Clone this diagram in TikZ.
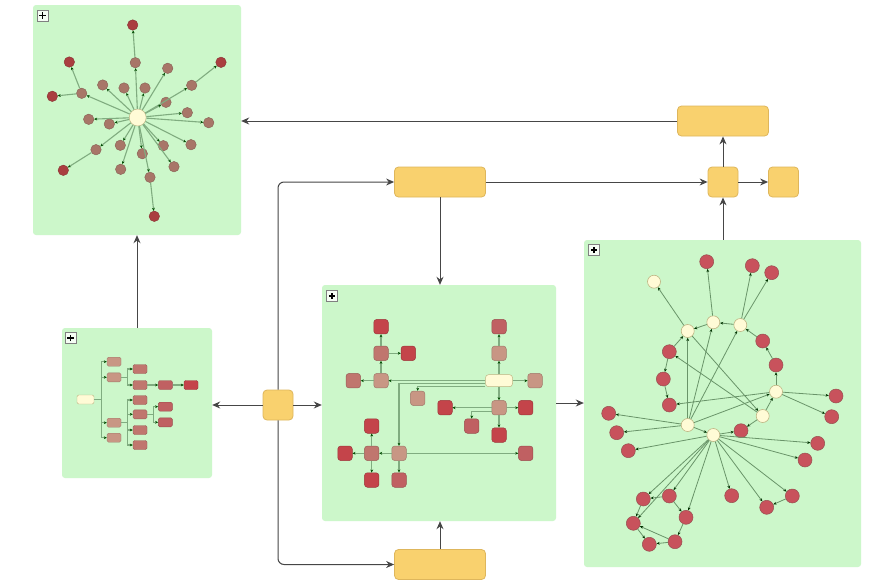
\documentclass[tikz,border=0pt]{standalone}
\usetikzlibrary{arrows.meta,calc}
\definecolor{panelgreen}{RGB}{204,247,202}
\definecolor{boxfill}{RGB}{249,209,110}
\definecolor{boxline}{RGB}{222,182,92}
\definecolor{connline}{RGB}{70,70,70}
\definecolor{edgegreen}{RGB}{128,172,128}
\definecolor{netgreen}{RGB}{105,148,105}
\definecolor{cream}{RGB}{255,251,214}
\definecolor{creamline}{RGB}{190,180,130}
\definecolor{starmid}{RGB}{168,118,104}
\definecolor{stardark}{RGB}{170,62,64}
\definecolor{netred}{RGB}{200,82,92}
\definecolor{netline}{RGB}{150,80,80}
\definecolor{ttan}{RGB}{200,150,132}
\definecolor{tmid}{RGB}{192,118,110}
\definecolor{tmdark}{RGB}{192,96,98}
\definecolor{tdark}{RGB}{196,68,74}
\begin{document}
\begin{tikzpicture}[x=1pt,y=-1pt,
  panel/.style={fill=panelgreen,draw=none,rounded corners=3pt,inner sep=0},
  obox/.style={fill=boxfill,draw=boxline,line width=0.8pt,rounded corners=4pt,inner sep=0},
  conn/.style={draw=connline,line width=1pt,-{Stealth[length=8pt,width=7pt]}},
  plusbox/.style={fill=white!80!panelgreen,draw=gray,line width=0.6pt,minimum size=11pt,inner sep=0,
    path picture={\draw[line width=1.4pt,black]
      ([xshift=-3.2pt]path picture bounding box.center) -- ([xshift=3.2pt]path picture bounding box.center)
      ([yshift=-3.2pt]path picture bounding box.center) -- ([yshift=3.2pt]path picture bounding box.center);}},
  sedge/.style={draw=edgegreen,line width=1.1pt,-{Stealth[length=3pt,width=2.8pt,black!70!green]}},
  nedge/.style={draw=netgreen,line width=0.8pt,-{Stealth[length=3.2pt,width=2.8pt,black!80!green]}},
  scream/.style={circle,fill=cream,draw=creamline,line width=0.5pt,inner sep=0,minimum size=17pt},
  smid/.style={circle,fill=starmid,draw=starmid!80!black,line width=0.4pt,inner sep=0,minimum size=10.5pt},
  sdark/.style={circle,fill=stardark,draw=stardark!80!black,line width=0.4pt,inner sep=0,minimum size=10.5pt},
  tnode/.style={rounded corners=1.5pt,line width=0.4pt,inner sep=0,minimum width=14pt,minimum height=9pt},
  cnode/.style={rounded corners=3pt,line width=0.5pt,inner sep=0,minimum size=14.5pt},
  ncirc/.style={circle,fill=netred,draw=netline,line width=0.5pt,inner sep=0,minimum size=14pt},
  wcirc/.style={circle,fill=cream,draw=creamline,line width=0.6pt,inner sep=0,minimum size=13pt}
]
\useasboundingbox (0,0) rectangle (869,581);
\fill[white] (0,0) rectangle (869,581);

% ---------- panels ----------
\node[panel,minimum width=208pt,minimum height=230pt] (P1) at (137,120) {};
\node[panel,minimum width=150pt,minimum height=150pt] (P2) at (137,403) {};
\node[panel,minimum width=234pt,minimum height=236pt] (P3) at (439,403) {};
\node[panel,minimum width=277pt,minimum height=327pt] (P4) at (722.5,403.5) {};

\node[plusbox] (K1) at (42.5,15.5) {};
\node[plusbox] (K2) at (70.5,338) {};
\node[plusbox] (K3) at (332,296) {};
\node[plusbox] (K4) at (594,250) {};

% ---------- process boxes ----------
\node[obox,minimum width=91pt,minimum height=30pt] (A) at (440,182) {};
\node[obox,minimum width=91pt,minimum height=30pt] (B) at (723,121) {};
\node[obox,minimum width=30pt,minimum height=30pt] (C) at (723,182) {};
\node[obox,minimum width=30pt,minimum height=30pt] (D) at (783.5,182) {};
\node[obox,minimum width=30pt,minimum height=30pt] (E) at (278,405) {};
\node[obox,minimum width=91pt,minimum height=30pt] (F) at (440,564.5) {};

% ---------- connectors ----------
\draw[conn] (B.west) -- (B.west -| P1.east);
\draw[conn] (C.north) -- (B.south);
\draw[conn] (A.east) -- (C.west);
\draw[conn] (C.east) -- (D.west);
\draw[conn] (C.south |- P4.north) -- (C.south);
\draw[conn] (A.south) -- (A.south |- P3.north);
\draw[conn,rounded corners=6pt] (E.north) |- (A.west);
\draw[conn] (E.west) -- (E.west -| P2.east);
\draw[conn] (E.east) -- (E.east -| P3.west);
\draw[conn,rounded corners=6pt] (E.south) |- (F.west);
\draw[conn] (F.north) -- (F.north |- P3.south);
\draw[conn] (P3.east) -- (P3.east -| P4.west);
\draw[conn] (P2.north) -- (P1.south);

% ---------- radial graph ----------
\foreach \n/\x/\y in {m1/135.3/62.7, m2/81.7/93.3, m3/102.7/85, m4/124/88, m5/145/88,
  m6/167.7/68.3, m7/191.7/85.3, m8/166/102.3, m9/187.3/112.7, m10/208.7/122.7,
  m11/88.7/119.3, m12/109.3/124, m13/96/149.7, m14/120.3/145.3, m15/142.3/153.7,
  m16/163.3/145.7, m17/191/144.7, m18/174/166.7, m19/120.7/169.3, m20/150/177.3}
  \node[smid] (\n) at (\x,\y) {};
\foreach \n/\x/\y in {k1/132.7/25, k2/69.3/62, k3/52.3/96.3, k4/221/62.3, k5/63.3/170.3, k6/154.3/216.3}
  \node[sdark] (\n) at (\x,\y) {};
\node[scream] (S0) at (137.7,117.5) {};
\foreach \n in {m1,m2,m3,m4,m5,m6,m7,m8,m9,m10,m11,m12,m13,m14,m15,m16,m17,m18,m19,m20}
  \draw[sedge] (S0) -- (\n);
\foreach \a/\b in {m1/k1, m2/k2, m2/k3, m7/k4, m13/k5, m20/k6}
  \draw[sedge] (\a) -- (\b);

% ---------- tree ----------
\node[tnode,fill=cream,draw=creamline,minimum width=17pt] (R) at (85.5,399.5) {};
\foreach \n/\y in {t1/361.7, t2/377.3, t3/422.7, t4/437.7}
  \node[tnode,fill=ttan,draw=ttan!80!black] (\n) at (114,\y) {};
\foreach \n/\y in {t5/369, t6/385, t7/400, t8/414.3, t9/430, t10/445}
  \node[tnode,fill=tmid,draw=tmid!80!black] (\n) at (140,\y) {};
\foreach \n/\y in {t11/385, t13/406.7, t14/422.3}
  \node[tnode,fill=tmdark,draw=tmdark!80!black] (\n) at (165.3,\y) {};
\node[tnode,fill=tdark,draw=tdark!80!black] (t12) at (191,385) {};
\foreach \n in {t1,t2,t3,t4}
  \draw[sedge] (R.east) -- ++(7,0) |- (\n.west);
\foreach \n in {t5,t6}
  \draw[sedge] (t2.east) -- ++(6,0) |- (\n.west);
\foreach \n in {t7,t8,t9,t10}
  \draw[sedge] (t3.east) -- ++(6,0) |- (\n.west);
\draw[sedge] (t6) -- (t11);
\draw[sedge] (t11) -- (t12);
\foreach \n in {t13,t14}
  \draw[sedge] (t8.east) -- ++(6,0) |- (\n.west);

% ---------- orthogonal graph ----------
\node[cnode,fill=cream,draw=creamline,minimum width=27pt,minimum height=12pt] (CR) at (499,380.7) {};
\foreach \n/\x/\y in {a4/381/380.7, b2/499/353.3, b3/535/380.7, c1/417.7/398.3, d0/499/407.7, e0/399/453.3}
  \node[cnode,fill=ttan,draw=ttan!80!black] (\n) at (\x,\y) {};
\foreach \n/\x/\y in {a2/381/353.3, a5/353.3/380.7, e1/371.7/453.3}
  \node[cnode,fill=tmid,draw=tmid!80!black] (\n) at (\x,\y) {};
\foreach \n/\x/\y in {b1/499/326.7, d3/471.7/426, e5/399/480, e6/525.7/453.3}
  \node[cnode,fill=tmdark,draw=tmdark!80!black] (\n) at (\x,\y) {};
\foreach \n/\x/\y in {a1/381/326.7, a3/408.3/353.3, d1/445/407.7, d2/525.7/407.7, d4/499/435,
  e2/371.7/426, e3/345/453.3, e4/371.7/480}
  \node[cnode,fill=tdark,draw=tdark!80!black] (\n) at (\x,\y) {};
\draw[sedge] (CR.west) -- (a4.east);
\draw[sedge] ([yshift=-3pt]CR.west) -| (e0.north);
\draw[sedge] ([yshift=-5.5pt]CR.west) -| (c1.north);
\draw[sedge] (CR) -- (b2);
\draw[sedge] (b2) -- (b1);
\draw[sedge] (CR) -- (b3);
\draw[sedge] (CR) -- (d0);
\draw[sedge] (d0) -- (d1);
\draw[sedge] (d0) -- (d2);
\draw[sedge] ([yshift=-4pt]d0.west) -| (d3.north);
\draw[sedge] (d0) -- (d4);
\draw[sedge] (a4) -- (a5);
\draw[sedge] (a4) -- (a2);
\draw[sedge] (a2) -- (a1);
\draw[sedge] (a2) -- (a3);
\draw[sedge] (e0) -- (e1);
\draw[sedge] (e0) -- (e5);
\draw[sedge] (e0) -- (e6);
\draw[sedge] (e1) -- (e2);
\draw[sedge] (e1) -- (e3);
\draw[sedge] (e1) -- (e4);

% ---------- network ----------
\foreach \n/\x/\y in {w1/654/281.7, w2/687.7/331, w3/713.3/322.3, w4/740.3/325, w5/776/391.7,
  w6/762.7/416, w7/687.7/425, w8/713.3/435}
  \node[wcirc] (\n) at (\x,\y) {};
\foreach \n/\x/\y in {r1/706.7/261.7, r2/752.3/265.7, r3/771.7/272.7, r4/762.7/341, r5/669.3/351.7,
  r6/776/365, r7/663.3/379, r8/669.3/405, r9/836/396, r11/608.7/413.3, r12/831.7/416.7,
  r13/741/430.7, r14/616.7/432.7, r15/817.7/443.3, r16/628.3/450.7, r17/805/460,
  r18/643.3/499, r19/669.3/496, r20/731.7/495.7, r21/792.3/496, r22/766.7/507.3,
  r23/686/517.3, r24/633.3/523.3, r25/675/541.7, r26/649.3/544.3}
  \node[ncirc] (\n) at (\x,\y) {};
\foreach \a/\b in {w3/r1, w4/r2, w4/r3, w4/w3, w3/w2, w2/w1, r4/w4, r6/r4, w5/r6, w5/r9,
  w5/r8, w5/r12, w6/w5, r5/w2, r5/r7, r7/r8, w6/r5, w2/w6, w7/w2, w7/w3, w7/w4, w7/w5,
  w7/w8, w7/r11, w7/r14, w8/r16, w8/r13, w6/r13, w8/r15, w8/r17, w8/r18, w8/r19, w8/r23,
  w8/r20, w8/r22, w8/r21, w8/r24, r19/r18, r18/r24, r24/r26, r25/r26, r23/r25, r25/r24,
  r19/r23, r21/r22}
  \draw[nedge] (\a) -- (\b);
\end{tikzpicture}
\end{document}
